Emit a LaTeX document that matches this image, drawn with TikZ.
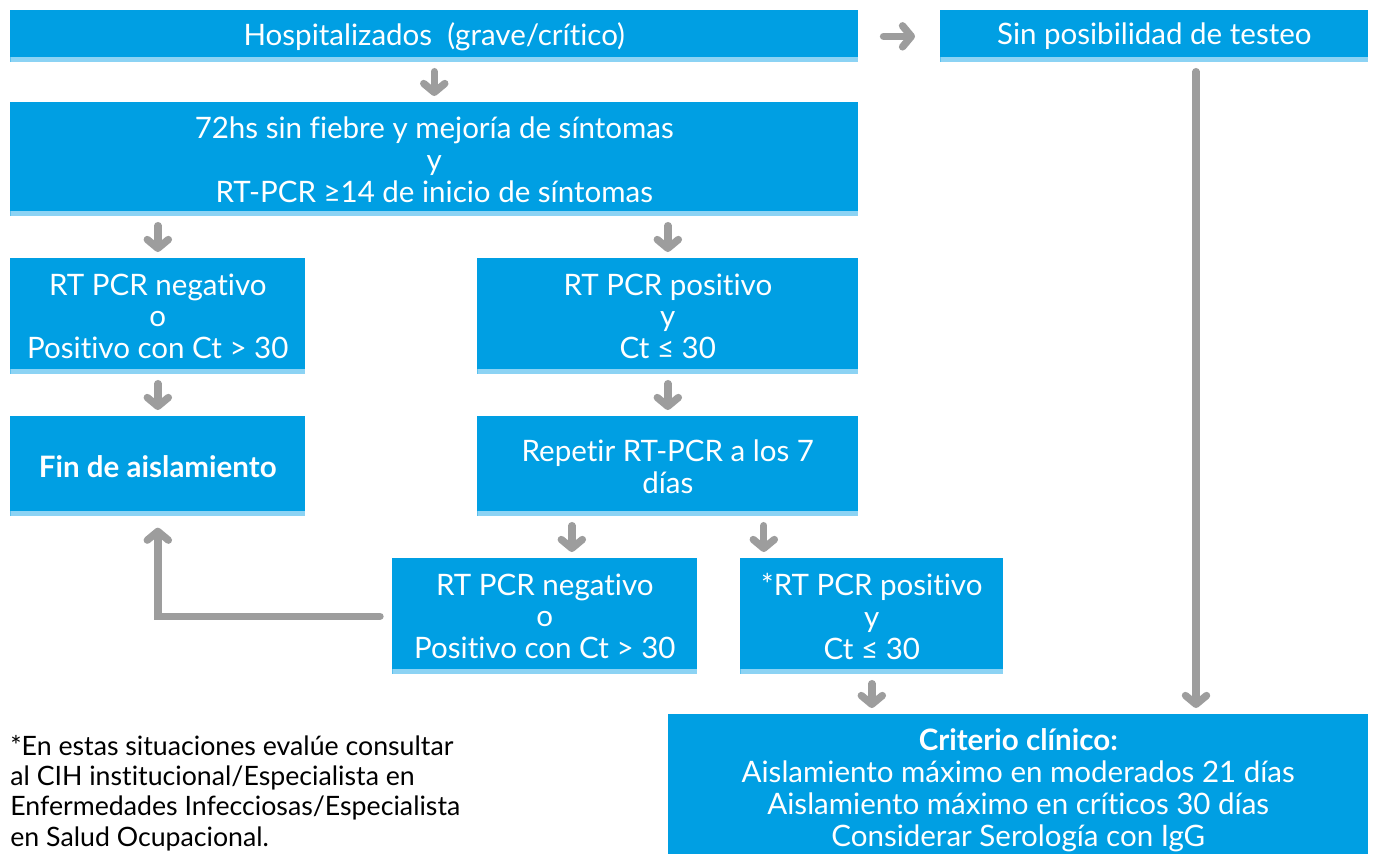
\documentclass[tikz,border=0pt]{standalone}
\usepackage{fontspec}
\setmainfont{Lato}[Ligatures=NoCommon]
\usetikzlibrary{arrows.meta,positioning,calc}

\definecolor{boxblue}{RGB}{0,159,227}
\definecolor{stripblue}{RGB}{140,211,244}
\definecolor{arrowgray}{RGB}{157,157,157}

\tikzset{
  plainbox/.style={fill=boxblue, text=white, anchor=north west, inner sep=0pt,
    align=center, font=\fontsize{16.8}{18.2}\selectfont},
  box/.style={plainbox, path picture={\fill[stripblue]
    (path picture bounding box.south west) rectangle ([yshift=3pt]path picture bounding box.south east);}},
  arr/.style={draw=arrowgray, line width=4.2pt, line cap=round,
    -{Straight Barb[length=5pt,width=12pt,round]}, shorten <=0.18cm, shorten >=0.12cm}
}

\begin{document}
\begin{tikzpicture}[x=0.02cm, y=-0.02cm]
    \useasboundingbox (0,0) rectangle (1378,854);

    % Top row
    \node[box, minimum width=16.96cm, minimum height=1.04cm] (hosp) at (10,10) {Hospitalizados\ \ (grave/crítico)};
    \node[box, minimum width=8.56cm, minimum height=1.04cm] (sin) at (940,10) {Sin posibilidad de testeo};

    % Criteria
    \node[box, minimum width=16.96cm, minimum height=2.28cm] (sint) at (10,102)
        {72hs sin fiebre y mejoría de síntomas\\y\\RT-PCR ≥14 de inicio de síntomas};

    % First test
    \node[box, minimum width=5.9cm, minimum height=2.32cm] (neg1) at (10,258) {RT PCR negativo\\o\\Positivo con Ct > 30};
    \node[box, minimum width=7.62cm, minimum height=2.32cm] (pos1) at (477,258) {RT PCR positivo\\y\\Ct ≤ 30};
    \node[box, minimum width=5.9cm, minimum height=2.0cm] (fin) at (10,416) {\bfseries Fin de aislamiento};
    \node[box, minimum width=7.62cm, minimum height=2.0cm] (rep) at (477,416) {Repetir RT-PCR a los 7\\días};

    % Second test
    \node[box, minimum width=6.1cm, minimum height=2.32cm] (neg2) at (392,558) {RT PCR negativo\\o\\Positivo con Ct > 30};
    \node[box, minimum width=5.26cm, minimum height=2.32cm] (pos2) at (740,558) {*RT PCR positivo\\y\\Ct ≤ 30};

    % Clinical criterion (runs off the bottom edge)
    \node[plainbox, minimum width=14.0cm, minimum height=3.04cm] (crit) at (668,714)
        {\bfseries Criterio clínico:\\Aislamiento máximo en moderados 21 días\\Aislamiento máximo en críticos 30 días\\Considerar Serología con IgG};

    % Footnote
    \node[anchor=north west, inner sep=0pt, align=left, font=\fontsize{15.2}{17.2}\selectfont] (nota) at (10,735)
        {*En estas situaciones evalúe consultar\\al CIH institucional/Especialista en\\Enfermedades Infecciosas/Especialista\\en Salud Ocupacional.};

    % Arrows
    \coordinate (col) at (1196,0);
    \draw[arr, shorten <=0.5cm, shorten >=0.5cm] (hosp.east) -- (sin.west);
    \draw[arr] (hosp.south) -- (sint.north);
    \draw[arr] (neg1.north |- sint.south) -- (neg1.north);
    \draw[arr] (pos1.north |- sint.south) -- (pos1.north);
    \draw[arr] (neg1.south) -- (fin.north);
    \draw[arr] (pos1.south) -- (rep.north);
    \draw[arr] ([xshift=-1.92cm]rep.south) -- ([xshift=-1.92cm]rep.south |- neg2.north);
    \draw[arr] ([xshift=1.92cm]rep.south) -- ([xshift=1.92cm]rep.south |- pos2.north);
    \draw[arr] (pos2.south) -- (pos2.south |- crit.north);
    \draw[arr] (sin.south -| col) -- (crit.north -| col);
    \draw[arr, shorten <=0.24cm, shorten >=0.22cm] (neg2.west) -| (fin.south);
\end{tikzpicture}
\end{document}
